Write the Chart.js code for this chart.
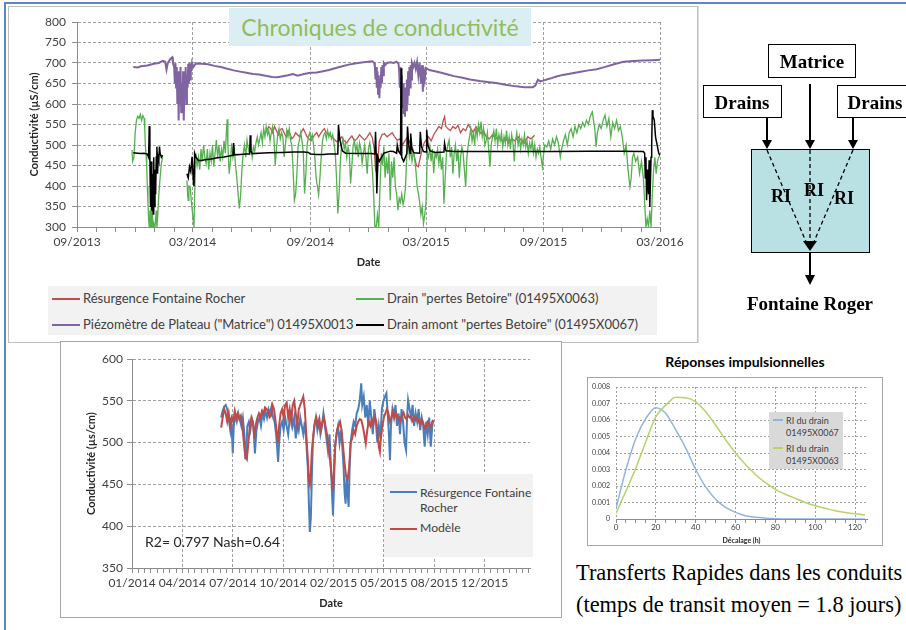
<!DOCTYPE html>
<html>
<head>
<meta charset="utf-8">
<script src="https://cdn.jsdelivr.net/npm/chart.js@4.4.1/dist/chart.umd.min.js"></script>
<style>
  body { margin: 0; background: #fff; }
  #page { position: relative; width: 906px; height: 630px; overflow: hidden; font-family: Lato, "Open Sans", sans-serif; color: #404040; }
  .abs { position: absolute; }
  .frame { position: absolute; box-sizing: border-box; border: 1px solid #a6a6a6; background: #fff; }
  .lg-line { position: absolute; height: 2px; }
  .lg-text { position: absolute; white-space: nowrap; line-height: 1; }
  .serif { font-family: "Liberation Serif", "DejaVu Serif", serif; color: #000; }
</style>
</head>
<body>
<div id="page">
  <!-- outer blue edges of the slide -->
  <div class="abs" style="left:4px;top:2px;width:902px;height:2px;background:#5b87c5"></div>
  <div class="abs" style="left:4px;top:2px;width:2px;height:628px;background:#5b87c5"></div>

  <!-- top panel -->
  <div class="frame" style="left:8px;top:6px;width:690px;height:337px;border-color:#bfbfbf"></div>
  <canvas id="topChart" class="abs" style="left:9px;top:7px" width="687" height="273"></canvas>
  <div class="abs" style="left:229px;top:8px;width:302px;height:38px;background:#daeef3;color:#92bd5a;font-size:23px;text-align:center;line-height:38px">Chroniques de conductivité</div>
  <div class="abs" id="topLegend" style="left:48px;top:286px;width:609px;height:49px;background:#f2f2f2"></div>

  <!-- bottom-left panel -->
  <div class="frame" style="left:60px;top:341px;width:502px;height:277px"></div>
  <canvas id="botChart" class="abs" style="left:61px;top:342px" width="500" height="275"></canvas>
  <div class="abs" style="left:145px;top:533px;font-size:14px;color:#262626;white-space:nowrap">R2= 0.797 Nash=0.64</div>
  <div class="abs" id="botLegend" style="left:384px;top:474px;width:149px;height:83px;background:#f2f2f2"></div>

  <!-- impulse responses -->
  <div class="abs" style="left:645px;top:353px;width:200px;text-align:center;font-size:14px;font-weight:bold;color:#000">Réponses impulsionnelles</div>
  <div class="frame" style="left:587px;top:377px;width:296px;height:169px"></div>
  <canvas id="riChart" class="abs" style="left:588px;top:378px" width="294" height="167"></canvas>
  <div class="abs" id="riLegend" style="left:769px;top:412px;width:74px;height:57px;background:#d9d9d9"></div>

  <div class="abs serif" style="left:576px;top:557px;font-size:22.4px;white-space:nowrap;line-height:32px">Transferts Rapides dans les conduits<br>(temps de transit moyen = 1.8 jours)</div>

  <!-- conceptual diagram -->
  <svg class="abs" style="left:0;top:0" width="906" height="630">
    <line x1="698" y1="6" x2="698" y2="343" stroke="#bfbfbf" stroke-width="1"/>
    <rect x="768.5" y="44.5" width="87" height="33" fill="#fff" stroke="#000" stroke-width="1"/>
    <rect x="703.5" y="85.5" width="78" height="32" fill="#fff" stroke="#000" stroke-width="1"/>
    <rect x="837.5" y="85.5" width="78" height="32" fill="#fff" stroke="#000" stroke-width="1"/>
    <g font-family="Liberation Serif, DejaVu Serif, serif" font-weight="bold" text-anchor="middle" dominant-baseline="central" fill="#000">
      <text x="812" y="61" font-size="19">Matrice</text>
      <text x="742" y="102" font-size="19">Drains</text>
      <text x="875" y="102" font-size="19">Drains</text>
    </g>
    <g stroke="#000" stroke-width="2">
      <line x1="767" y1="117" x2="767" y2="142"/>
      <line x1="810" y1="84" x2="810" y2="142"/>
      <line x1="853" y1="117" x2="853" y2="142"/>
    </g>
    <g fill="#000">
      <polygon points="762,140 772,140 767,149"/>
      <polygon points="805,140 815,140 810,149"/>
      <polygon points="848,140 858,140 853,149"/>
    </g>
    <rect x="751.5" y="149.5" width="118" height="103" fill="#b9e1e4" stroke="#000" stroke-width="1"/>
    <g stroke="#000" stroke-width="1.3" stroke-dasharray="4 3">
      <line x1="767" y1="150" x2="807" y2="244"/>
      <line x1="810" y1="150" x2="810" y2="244"/>
      <line x1="853" y1="150" x2="813" y2="244"/>
    </g>
    <polygon points="803,241 817,241 810,251" fill="#000"/>
    <line x1="810" y1="252" x2="810" y2="277" stroke="#000" stroke-width="2"/>
    <polygon points="805,275 815,275 810,285" fill="#000"/>
    <g font-family="Liberation Serif, DejaVu Serif, serif" font-weight="bold" text-anchor="middle" dominant-baseline="central" fill="#000" font-size="18">
      <text x="781" y="196">RI</text>
      <text x="814" y="190">RI</text>
      <text x="844" y="198">RI</text>
      <text x="810" y="303" font-size="19">Fontaine Roger</text>
    </g>
  </svg>
</div>

<script>
// ---------- top chart : days since 01/09/2013 ----------
const topMajorLabels = ['09/2013', '03/2014', '09/2014', '03/2015', '09/2015', '03/2016'];

const resurgenceRocher = [
  [297,535],[300,545],[303,540],[306,530],[309,545],[312,535],[315,525],[318,538],[321,540],[324,530],
  [327,520],[330,535],[333,528],[336,515],[339,520],[342,530],[345,525],[348,520],[351,532],[354,540],
  [357,530],[360,520],[363,515],[366,510],[369,518],[372,525],[375,530],[378,520],[381,528],[384,535],
  [387,540],[390,530],[394,527],[398,520],[402,515],[406,508],[410,512],[414,520],[418,510],[422,505],
  [426,515],[430,522],[434,510],[438,515],[442,525],[446,518],[450,512],[454,520],[458,530],[462,518],
  [465,490],[467,440],[469,430],[471,470],[473,510],[477,525],[481,528],[485,520],[489,525],[493,530],
  [497,520],[501,512],[505,515],[509,500],[513,510],[517,520],[521,505],[525,490],[528,470],[531,450],
  [534,447],[537,470],[540,490],[543,505],[546,512],[550,520],[554,510],[558,525],[562,535],[566,545],
  [570,540],[573,560],[575,569],[577,545],[580,540],[584,535],[588,545],[592,540],[596,548],[600,530],
  [604,540],[608,535],[612,550],[616,540],[620,530],[624,545],[628,535],[632,528],[636,535],[640,520],
  [645,515],[650,525],[655,515],[660,520],[665,510],[670,518],[675,505],[680,515],[685,510],[690,520],
  [695,512],[700,505],[705,520],[710,515],[716,524]
];

const drainBetoire0063 = [
  [86,488],[87,460],[89,470],[91,530],[93,560],[95,570],[97,565],[99,575],[101,560],[103,572],
  [105,565],[106,540],[107,496],[108,479],[109,450],[110,400],[111,360],[112,320],[113,300],[114,340],
  [115,300],[116,370],[117,300],[118,330],[119,300],[120,310],[122,300],[124,340],[125,300],[126,320],
  [128,380],[130,420],[132,455],[134,470],[135,null],
  [172,414],[173,380],[174,365],[175,400],[177,398],[179,360],[181,330],[183,300],[184,380],[186,480],
  [188,450],[190,470],[192,440],[194,490],[196,460],[198,500],[200,470],[202,455],[204,490],[206,440],
  [208,480],[210,460],[212,500],[214,447],[216,480],[218,512],[220,470],[222,500],[224,460],[226,490],
  [228,470],[230,510],[232,480],[234,540],[235,563],[236,500],[237,470],[238,430],[240,460],[242,504],
  [244,470],[246,490],[248,450],[250,420],[252,380],[254,345],[256,380],[258,440],[260,480],[262,500],
  [264,470],[266,512],[268,490],[270,480],[272,500],[274,470],[276,495],[278,485],[280,505],[282,520],
  [284,500],[286,515],[288,530],[290,505],[292,540],[294,520],[296,545],[298,525],[300,535],[302,510],
  [304,530],[306,545],[308,520],[310,451],[312,490],[314,525],[316,540],[318,515],[320,530],[322,520],
  [324,471],[326,500],[328,535],[330,520],[332,540],[334,512],[336,500],[338,440],[340,365],[342,380],
  [344,430],[346,500],[348,512],[350,530],[352,510],[354,480],[356,382],[358,430],[360,500],[362,520],
  [364,530],[366,515],[368,525],[370,500],[372,470],[374,420],[376,400],[378,378],[380,420],[382,470],
  [384,510],[386,525],[388,530],[390,515],[392,535],[394,520],[396,530],[398,515],[400,525],[402,505],
  [404,480],[406,420],[408,333],[410,380],[412,460],[414,500],[416,515],[418,490],[420,505],[422,470],
  [424,495],[426,480],[428,406],[430,450],[432,500],[434,510],[436,485],[438,500],[440,470],[442,505],
  [444,490],[446,455],[448,480],[450,500],[452,470],[454,430],[456,490],[458,505],[460,480],[462,440],
  [464,380],[466,300],[468,300],[470,330],[472,300],[474,400],[476,480],[478,450],[480,496],[482,420],
  [484,470],[486,430],[488,480],[490,365],[492,460],[494,420],[496,470],[498,400],[500,380],[502,341],
  [504,370],[506,360],[508,380],[510,355],[512,370],[514,400],[516,480],[518,500],[520,470],[522,490],
  [524,460],[526,485],[528,470],[530,440],[532,400],[534,382],[536,360],[538,330],[540,350],[542,308],
  [544,330],[546,360],[548,480],[550,470],[552,496],[554,460],[556,490],[558,431],[560,480],[562,470],
  [564,490],[566,455],[568,480],[570,440],[572,470],[574,357],[576,420],[578,480],[580,500],[582,512],
  [584,470],[586,495],[588,430],[590,480],[592,500],[594,460],[596,490],[598,420],[600,470],[602,495],
  [604,480],[606,440],[608,398],[610,470],[612,500],[614,520],[616,540],[618,510],[620,530],[622,500],
  [624,545],[626,520],[628,550],[630,530],[632,557],[634,520],[636,540],[638,500],[640,510],[642,530],
  [644,490],[646,447],[648,500],[650,520],[652,535],[654,510],[656,540],[658,500],[660,525],[662,510],
  [664,530],[666,495],[668,520],[670,505],[672,535],[674,500],[676,520],[678,490],[680,525],[682,505],
  [684,460],[686,510],[688,530],[690,500],[692,520],[694,490],[696,515],[698,500],[700,525],[702,495],
  [704,510],[706,480],[708,505],[710,490],[712,510],[714,480],[716,500],[718,470],[720,490],[722,480],
  [724,495],[726,470],[728,447],[730,480],[732,500],[735,495],[738,510],[741,490],[744,515],[747,500],
  [750,520],[753,505],[756,470],[758,490],[761,510],[764,525],[767,500],[770,530],[773,540],[776,520],
  [779,545],[782,530],[785,550],[788,540],[791,555],[794,545],[797,560],[800,550],[803,570],[806,581],
  [808,560],[810,540],[812,496],[814,530],[817,550],[820,540],[823,560],[826,573],[829,545],[832,565],
  [835,520],[838,555],[841,540],[844,560],[847,535],[850,545],[853,520],[856,480],[859,500],[862,440],
  [865,398],[867,420],[869,470],[871,480],[874,460],[877,471],[880,430],[883,460],[886,420],[888,360],
  [890,300],[892,320],[894,300],[896,340],[898,300],[900,380],[902,440],[904,470],[906,430],[908,460],
  [910,470],[912,475]
];

const piezoMatrice0013 = [
  [88,690],[95,689],[100,692],[110,694],[120,698],[128,700],[134,705],[138,703],[140,684],[142,700],
  [146,710],[149,714],[150,700],[152,690],[153,650],[154,700],[155,640],[156,690],[157,600],[158,680],
  [159,560],[160,660],[161,600],[162,690],[163,580],[164,650],[165,590],[166,680],[167,560],[168,650],
  [169,620],[170,690],[171,600],[172,670],[173,640],[174,698],[175,650],[176,700],[177,660],[178,698],
  [179,680],[180,700],[182,690],[186,699],[195,698],[205,697],[215,693],[225,690],[235,686],[245,682],
  [255,679],[265,676],[275,673],[285,672],[295,669],[305,666],[313,665],[320,667],[330,670],[338,673],
  [345,669],[355,673],[365,676],[375,677],[385,680],[394,683],[405,688],[415,692],[425,696],[435,699],
  [445,701],[455,703],[462,704],[465,700],[466,690],[467,660],[468,690],[469,640],[470,680],[471,625],
  [472,670],[473,614],[474,660],[475,640],[476,690],[477,650],[478,695],[479,670],[480,700],[482,695],
  [485,700],[490,702],[495,700],[500,703],[503,698],[504,680],[505,640],[506,690],[507,610],[508,670],
  [509,590],[510,650],[511,575],[512,640],[513,569],[514,620],[515,585],[516,660],[517,600],[518,680],
  [519,620],[520,690],[521,640],[522,695],[523,660],[524,700],[526,690],[528,700],[530,685],[532,702],
  [534,670],[536,700],[538,650],[540,695],[541,630],[542,690],[544,660],[546,688],[551,683],[560,680],
  [570,676],[580,672],[590,668],[603,664],[615,660],[630,656],[645,653],[656,651],[670,647],[687,643],
  [700,641],[713,641],[717,645],[721,659],[725,655],[729,657],[740,662],[750,667],[760,671],[775,675],
  [790,679],[800,682],[813,685],[825,690],[840,697],[855,703],[870,705],[885,706],[900,707],[912,708]
];

const drainAmont0067 = [
  [88,481],[95,480],[100,479],[105,480],[110,478],[112,470],[113,546],[114,470],[115,349],[116,460],
  [117,340],[118,430],[119,332],[120,470],[121,350],[122,440],[123,380],[124,470],[125,496],[126,430],
  [127,470],[128,463],[129,496],[130,480],[132,470],[134,475],[135,null],
  [172,430],[174,420],[176,447],[178,435],[180,471],[182,414],[183,400],[184,480],[186,470],[190,462],
  [195,462],[200,464],[210,466],[220,469],[230,471],[240,474],[244,475],[245,505],[246,476],[255,477],
  [265,478],[270,478],[271,524],[272,485],[274,479],[285,480],[300,481],[320,482],[340,483],[355,483],
  [362,482],[365,478],[375,477],[385,477],[394,478],[408,478],[409,549],[411,515],[413,500],[415,486],
  [420,480],[440,479],[460,479],[466,478],[467,532],[468,479],[469,382],[470,430],[471,470],[473,460],
  [480,480],[490,485],[495,484],[500,480],[501,500],[503,485],[506,478],[507,687],[508,470],[511,460],
  [516,479],[517,545],[519,500],[521,480],[522,528],[524,490],[527,481],[536,480],[537,532],[539,495],
  [542,484],[546,483],[547,537],[549,500],[552,486],[560,482],[574,483],[575,504],[577,486],[590,484],
  [620,484],[650,484],[700,484],[750,484],[800,485],[850,485],[886,484],[888,480],[889,420],[890,470],
  [891,365],[892,440],[893,422],[894,380],[895,463],[896,349],[897,410],[898,470],[899,500],[900,585],
  [901,570],[903,561],[905,520],[907,504],[910,480],[912,475]
];

// ---------- bottom chart : days since 01/01/2014 ----------
const botMajorLabels = ['01/2014', '04/2014', '07/2014', '10/2014', '02/2015', '05/2015', '08/2015', '12/2015'];

const resurgenceObs = [
  [177,530],[180,538],[183,543],[186,545],[189,540],[192,528],[195,515],[197,530],[200,487],[202,520],
  [205,532],[208,525],[211,535],[214,528],[217,520],[220,530],[223,510],[225,480],[227,490],[229,520],
  [232,525],[235,515],[238,528],[241,520],[244,487],[247,515],[250,525],[253,530],[256,520],[259,535],
  [262,528],[265,538],[268,530],[271,540],[274,535],[277,543],[280,530],[283,525],[286,510],[288,495],
  [290,477],[292,500],[295,520],[298,525],[301,515],[304,530],[307,520],[310,510],[313,528],[316,535],
  [319,520],[322,530],[325,505],[328,525],[331,515],[334,530],[337,520],[340,510],[343,525],[346,500],
  [349,470],[351,430],[353,393],[355,410],[357,460],[359,500],[362,520],[365,530],[368,515],[371,525],
  [374,510],[377,520],[380,535],[383,520],[386,505],[389,490],[392,510],[395,470],[397,440],[399,413],
  [401,450],[403,495],[406,510],[409,520],[412,500],[415,515],[418,490],[420,470],[422,440],[424,427],
  [426,460],[428,440],[430,423],[432,470],[434,500],[437,515],[440,525],[443,520],[446,535],[449,540],
  [452,550],[455,571],[457,545],[460,555],[463,530],[466,545],[469,520],[472,550],[475,530],[478,510],
  [481,540],[484,525],[487,500],[490,520],[493,505],[496,540],[499,550],[502,555],[505,559],[508,530],
  [510,510],[512,479],[514,520],[517,540],[520,530],[523,545],[526,520],[529,535],[532,510],[535,540],
  [538,525],[541,500],[544,491],[546,530],[548,551],[551,540],[554,530],[557,545],[560,520],[563,535],
  [566,525],[569,540],[572,515],[575,530],[578,520],[581,495],[584,525],[587,510],[590,530],[593,495],
  [596,520],[598,527]
];

const modele = [
  [177,518],[180,530],[183,540],[186,535],[189,525],[192,535],[195,520],[198,530],[201,525],[204,538],
  [207,530],[210,535],[213,528],[216,532],[219,520],[222,500],[225,483],[228,480],[231,500],[234,520],
  [237,530],[240,525],[243,505],[246,522],[249,530],[252,535],[255,530],[258,538],[261,535],[264,542],
  [267,540],[270,538],[273,530],[276,532],[279,545],[282,540],[285,525],[288,510],[290,499],[292,520],
  [295,535],[298,540],[301,530],[304,545],[307,548],[310,530],[313,540],[316,525],[319,545],[322,550],
  [325,535],[328,520],[331,540],[334,545],[337,550],[340,555],[343,540],[346,510],[349,480],[351,456],
  [353,450],[355,465],[357,490],[360,510],[363,525],[366,530],[369,520],[372,528],[375,515],[378,525],
  [381,530],[384,520],[387,510],[390,495],[393,480],[396,460],[399,443],[401,470],[404,500],[407,515],
  [410,520],[413,525],[416,515],[419,495],[422,475],[425,460],[428,456],[431,470],[434,500],[437,505],
  [440,515],[443,510],[446,520],[449,525],[452,528],[455,527],[458,520],[461,510],[464,499],[467,515],
  [470,525],[473,520],[476,528],[479,522],[482,530],[485,525],[488,510],[490,495],[492,489],[494,505],
  [497,520],[500,530],[503,535],[506,540],[509,535],[512,525],[515,530],[518,538],[521,530],[524,535],
  [527,528],[530,530],[533,525],[536,532],[539,536],[542,530],[545,528],[548,533],[551,530],[554,531],
  [557,526],[560,530],[563,527],[566,530],[569,525],[572,522],[575,528],[578,524],[581,517],[584,520],
  [587,525],[590,522],[593,518],[596,525],[598,527]
];

// ---------- impulse responses ----------
const lagHours = [0,5,10,15,20,25,30,35,40,45,50,55,60,65,70,75,80,85,90,95,100,105,110,115,120,125];
const riDrain0067 = [0.00065,0.0030,0.0049,0.0061,0.00675,0.0064,0.0054,0.0043,0.0030,0.00195,0.0012,0.0007,0.0004,0.0002,0.0001,0.00005,0.00002,0,0,0,0,0,0,0,0,0];
const riDrain0063 = [0.00035,0.0017,0.0031,0.0047,0.0062,0.0069,0.00738,0.00735,0.0071,0.0065,0.0057,0.0048,0.0040,0.0033,0.0027,0.0022,0.0018,0.0015,0.00125,0.001,0.0008,0.00065,0.0005,0.0004,0.00032,0.00026];

const C_RED = '#c0504d', C_GREEN = '#55b04f', C_PURPLE = '#8064a2', C_BLACK = '#000000';
const C_BLUE = '#4a7ebb', C_RED2 = '#be4b48', C_RI1 = '#8fb4df', C_RI2 = '#b7d36b';
const GRID = '#a0a0a0', AXIS = '#8c8c8c';

Chart.defaults.font.family = 'Lato, "Open Sans", sans-serif';
Chart.defaults.color = '#404040';
Chart.defaults.animation = false;
Chart.defaults.responsive = false;
Chart.defaults.plugins.legend.display = false;
Chart.defaults.plugins.tooltip.enabled = false;

function line(label, data, color, width, order) {
  return { label, data, borderColor: color, backgroundColor: color, borderWidth: width,
           pointRadius: 0, tension: 0, spanGaps: false, order };
}

function htmlLegend(el, items) {
  items.forEach(it => {
    const l = document.createElement('div');
    l.className = 'lg-line';
    l.style.cssText = `left:${it.x}px;top:${it.y - 1}px;width:${it.w}px;background:${it.color}`;
    el.appendChild(l);
    const t = document.createElement('div');
    t.className = 'lg-text';
    t.style.cssText = `left:${it.x + it.w + 3}px;top:${it.y - it.fs / 2 - 1}px;font-size:${it.fs}px;line-height:${it.lh || it.fs}px`;
    t.innerHTML = it.text;
    el.appendChild(t);
  });
}

// month starts for the top axis
const topMonthDays = [];
for (let m = 0; m <= 30; m++) {
  topMonthDays.push(Math.round((Date.UTC(2013, 8 + m, 1) - Date.UTC(2013, 8, 1)) / 864e5));
}

const topDatasets = [
  line('Résurgence Fontaine Rocher', resurgenceRocher, C_RED, 1.3, 4),
  line('Drain "pertes Betoire" (01495X0063)', drainBetoire0063, C_GREEN, 1.3, 3),
  line('Piézomètre de Plateau ("Matrice") 01495X0013', piezoMatrice0013, C_PURPLE, 2, 2),
  line('Drain amont "pertes Betoire" (01495X0067)', drainAmont0067, C_BLACK, 1.5, 1)
];

new Chart(document.getElementById('topChart'), {
  type: 'line',
  data: { datasets: topDatasets },
  options: {
    layout: { padding: { left: 15, right: 36, top: 15, bottom: 7 } },
    scales: {
      x: {
        type: 'linear', min: 0, max: 912,
        afterBuildTicks: s => { s.ticks = topMonthDays.map(v => ({ value: v })); },
        afterFit: s => { s.height = 46; },
        ticks: { autoSkip: false, maxRotation: 0, padding: 3, font: { size: 12 },
                 callback: (v, i) => (i % 6 === 0 ? topMajorLabels[i / 6] : '') },
        grid: { color: c => (c.index % 6 === 0 ? GRID : 'rgba(0,0,0,0)'), tickColor: AXIS, tickLength: 5, tickBorderDash: [] },
        border: { color: AXIS, dash: [3, 2] },
        title: { display: true, text: 'Date', font: { size: 11, weight: 'bold' }, color: '#262626' }
      },
      y: {
        min: 300, max: 800,
        afterFit: s => { s.width = 53; },
        ticks: { stepSize: 50, padding: 6, font: { size: 12 } },
        grid: { color: GRID, tickColor: AXIS, tickLength: 5, tickBorderDash: [] },
        border: { color: AXIS, dash: [3, 2] },
        title: { display: true, text: 'Conductivité (µS/cm)', font: { size: 11, weight: 'bold' }, color: '#262626' }
      }
    }
  }
});

htmlLegend(document.getElementById('topLegend'), [
  { x: 4, y: 13, w: 28, color: C_RED, text: topDatasets[0].label, fs: 13 },
  { x: 308, y: 13, w: 28, color: C_GREEN, text: topDatasets[1].label, fs: 13 },
  { x: 4, y: 39, w: 28, color: C_PURPLE, text: topDatasets[2].label, fs: 13 },
  { x: 308, y: 39, w: 28, color: C_BLACK, text: topDatasets[3].label, fs: 13 }
]);

// bottom chart
const botTicks = [];
for (let d = 0; d < 790; d += 12.5) botTicks.push(d);

new Chart(document.getElementById('botChart'), {
  type: 'line',
  data: { datasets: [
    line('Résurgence Fontaine Rocher', resurgenceObs, C_BLUE, 2, 2),
    line('Modèle', modele, C_RED2, 2, 1)
  ] },
  options: {
    layout: { padding: { left: 20, right: 31, top: 17, bottom: 3 } },
    scales: {
      x: {
        type: 'linear', min: 0, max: 790,
        afterBuildTicks: s => { s.ticks = botTicks.map(v => ({ value: v })); },
        afterFit: s => { s.height = 46; },
        ticks: { autoSkip: false, maxRotation: 0, padding: 3, font: { size: 12 },
                 callback: (v, i) => (i % 8 === 0 ? botMajorLabels[i / 8] : '') },
        grid: { color: c => (c.index % 8 === 0 ? GRID : 'rgba(0,0,0,0)'), tickColor: AXIS, tickLength: 5, tickBorderDash: [] },
        border: { color: AXIS, dash: [3, 2] },
        title: { display: true, text: 'Date', font: { size: 11, weight: 'bold' }, color: '#262626' }
      },
      y: {
        min: 350, max: 600,
        afterFit: s => { s.width = 51; },
        ticks: { stepSize: 50, padding: 4, font: { size: 12 } },
        grid: { color: GRID, tickColor: AXIS, tickLength: 5, tickBorderDash: [] },
        border: { color: AXIS, dash: [3, 2] },
        title: { display: true, text: 'Conductivité (µs/cm)', font: { size: 11, weight: 'bold' }, color: '#262626' }
      }
    }
  }
});

htmlLegend(document.getElementById('botLegend'), [
  { x: 6, y: 18, w: 27, color: C_BLUE, text: 'Résurgence Fontaine<br>Rocher', fs: 12.2, lh: 15 },
  { x: 6, y: 55, w: 27, color: C_RED2, text: 'Modèle', fs: 12.2 }
]);

// impulse responses
const riTicks = [];
for (let h = 0; h <= 125; h += 5) riTicks.push(h);

new Chart(document.getElementById('riChart'), {
  type: 'line',
  data: {
    datasets: [
      { label: 'RI du drain 01495X0067', data: lagHours.map((h, i) => [h, riDrain0067[i]]), borderColor: C_RI1,
        borderWidth: 1.5, pointRadius: 0, cubicInterpolationMode: 'monotone', order: 2 },
      { label: 'RI du drain 01495X0063', data: lagHours.map((h, i) => [h, riDrain0063[i]]), borderColor: C_RI2,
        borderWidth: 1.5, pointRadius: 0, cubicInterpolationMode: 'monotone', order: 1 }
    ]
  },
  options: {
    layout: { padding: { left: 0, right: 15, top: 9, bottom: 0 } },
    scales: {
      x: {
        type: 'linear', min: 0, max: 126,
        afterBuildTicks: s => { s.ticks = riTicks.map(v => ({ value: v })); },
        afterFit: s => { s.height = 26; },
        ticks: { autoSkip: false, maxRotation: 0, padding: 0, font: { size: 8 },
                 callback: (v, i) => (i % 4 === 0 ? String(v) : '') },
        grid: { color: c => (c.index % 4 === 0 ? GRID : 'rgba(0,0,0,0)'), tickColor: AXIS, tickLength: 4, tickBorderDash: [] },
        border: { color: AXIS, dash: [2, 2] },
        title: { display: true, text: 'Décalage (h)', font: { size: 7, weight: 'bold' }, color: '#262626', padding: 0 }
      },
      y: {
        min: 0, max: 0.008,
        afterFit: s => { s.width = 28; },
        ticks: { stepSize: 0.001, padding: 2, font: { size: 7 },
                 callback: v => (v === 0 ? '0' : v.toFixed(3)) },
        grid: { color: GRID, tickColor: 'rgba(0,0,0,0)', tickLength: 4, tickBorderDash: [] },
        border: { display: false, dash: [2, 2] }
      }
    }
  }
});

htmlLegend(document.getElementById('riLegend'), [
  { x: 4, y: 8, w: 10, color: C_RI1, text: 'RI du drain<br>01495X0067', fs: 9, lh: 12 },
  { x: 4, y: 36, w: 10, color: C_RI2, text: 'RI du drain<br>01495X0063', fs: 9, lh: 12 }
]);
</script>
</body>
</html>
